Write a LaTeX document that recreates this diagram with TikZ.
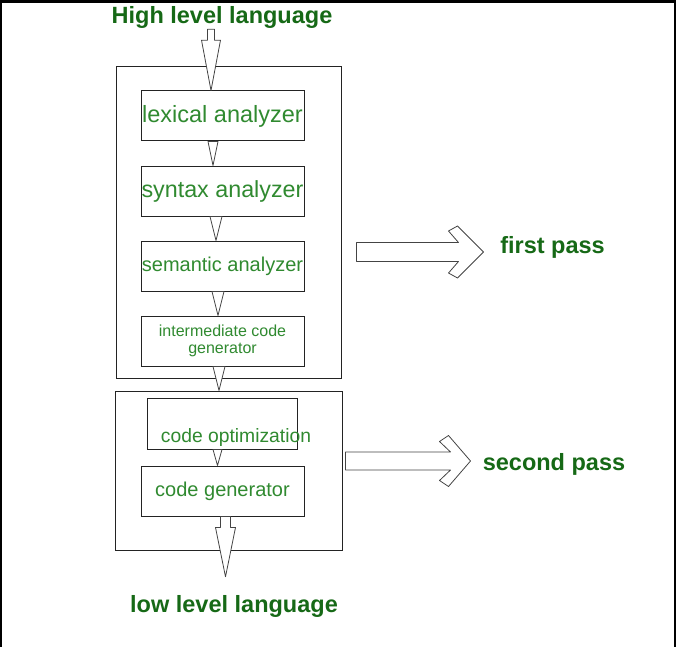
\documentclass[tikz,border=0pt]{standalone}
\usepackage{fontspec}
\setmainfont{Liberation Sans}
\usepackage{tikz}
\usetikzlibrary{calc,positioning}
\definecolor{lblgreen}{RGB}{22,105,22}
\definecolor{txtgreen}{RGB}{48,138,48}
\definecolor{edgegray}{RGB}{35,35,35}

\begin{document}
\begin{tikzpicture}[x=1pt,y=-1pt,
    stage/.style={draw=edgegray,line width=1pt,fill=white,inner sep=0pt,
      minimum width=163pt,minimum height=50pt,text=txtgreen},
    passbox/.style={draw=edgegray,line width=1pt,inner sep=0pt},
    bigtxt/.style={font=\fontsize{23.5}{28}\selectfont\bfseries,text=lblgreen,inner sep=0pt},
    hollow/.style={draw=edgegray!85,line width=0.8pt,fill=white,line join=round}]
      \useasboundingbox (0,0) rectangle (676,647);
      % black frame of the screenshot
      \fill[black] (0,0) rectangle (676,3);
      \fill[black] (0,0) rectangle (1.5,647);
      \fill[black] (673.5,0) rectangle (676,647);

      % the two passes
      \node[passbox,minimum width=225pt,minimum height=311pt] (pass1) at (228.5,222.5) {};
      \node[passbox,minimum width=227pt,minimum height=159pt] (pass2) at (228.5,470.5) {};

      % phases
      \node[stage,font=\fontsize{23.5}{28}\selectfont] (lex) at (222.5,116) {lexical analyzer};
      \node[stage,font=\fontsize{23.3}{28}\selectfont] (syn) at (222.5,191) {syntax analyzer};
      \node[stage,font=\fontsize{20}{24}\selectfont] (sem) at (222.5,266) {semantic analyzer};
      \node[stage,align=center,font=\fontsize{16}{16.5}\selectfont] (icg) at (222.5,341)
            {intermediate code\\generator};
      \node[stage,minimum width=150pt,minimum height=51pt] (opt) at (222,423.5) {};
      \node[text=txtgreen,inner sep=0pt,anchor=base,font=\fontsize{19.3}{23}\selectfont]
            (opttext) at (236,442) {code optimization};
      \node[stage,font=\fontsize{20}{24}\selectfont] (gen) at (222.5,491) {code generator};

      % languages and passes
      \node[bigtxt,anchor=base] (hll) at (222,24) {High level language};
      \node[bigtxt,anchor=base] (lll) at (234,612) {low level language};
      \node[bigtxt,anchor=base] (fp) at (552.5,253) {first pass};
      \node[bigtxt,anchor=base] (sp) at (554,470) {second pass};

      % input arrow
      \coordinate (hltip) at ($(lex.north)+(-11.5,0)$);
      \coordinate (hlfoot) at (hltip |- hll.south);
      \draw[hollow] ($(hlfoot)+(-3.5,0)$) -- ($(hlfoot)+(3.5,0)$) -- ($(hlfoot)+(3.5,11)$)
            -- ($(hlfoot)+(9.5,11)$) -- (hltip) -- ($(hlfoot)+(-9.5,11)$)
            -- ($(hlfoot)+(-3.5,11)$) -- cycle;

      % between the phases
      \draw[hollow] ($(lex.south)+(-14.5,0)$) -- ($(lex.south)+(-4.5,0)$) -- ($(syn.north)+(-9.5,0)$) -- cycle;
      \draw[hollow] ($(syn.south)+(-12.5,0)$) -- ($(syn.south)+(-0.5,0)$) -- ($(sem.north)+(-6.5,0)$) -- cycle;
      \draw[hollow] ($(sem.south)+(-10.5,0)$) -- ($(sem.south)+(1.5,0)$) -- ($(icg.north)+(-4.5,0)$) -- cycle;
      \draw[hollow] ($(icg.south)+(-9.5,0)$) -- ($(icg.south)+(2.5,0)$) -- ($(pass2.north)+(-9.5,0)$) -- cycle;
      \draw[hollow] ($(opt.south)+(-9,0)$) -- ($(opt.south)+(0,0)$) -- ($(gen.north)+(-5,0)$) -- cycle;

      % output arrow
      \coordinate (lltip) at ($(lll.north)+(-8.5,-18)$);
      \coordinate (llfoot) at (lltip |- gen.south);
      \draw[hollow] ($(llfoot)+(-5,0)$) -- ($(llfoot)+(5,0)$) -- ($(llfoot)+(5,11)$)
            -- ($(llfoot)+(10,11)$) -- (lltip) -- ($(llfoot)+(-10,11)$)
            -- ($(llfoot)+(-5,11)$) -- cycle;

      % pass arrows
      \coordinate (fpfoot) at ($(pass1.east)+(15,29.5)$);
      \draw[hollow] ($(fpfoot)+(0,-9.5)$) -- ($(fpfoot)+(102,-9.5)$) -- ($(fpfoot)+(92,-21)$)
            -- ($(fpfoot)+(101,-26)$) -- ($(fpfoot)+(127,0)$) -- ($(fpfoot)+(101,26)$)
            -- ($(fpfoot)+(92,21)$) -- ($(fpfoot)+(102,9.5)$) -- ($(fpfoot)+(0,9.5)$) -- cycle;
      \coordinate (spfoot) at ($(pass2.east)+(3,-9.5)$);
      \draw[hollow] ($(spfoot)+(0,-9)$) -- ($(spfoot)+(105,-9)$) -- ($(spfoot)+(94,-19.5)$)
            -- ($(spfoot)+(103,-25.5)$) -- ($(spfoot)+(125,0)$) -- ($(spfoot)+(103,25.5)$)
            -- ($(spfoot)+(94,19.5)$) -- ($(spfoot)+(105,9)$) -- ($(spfoot)+(0,9)$) -- cycle;
    \end{tikzpicture}
\end{document}
